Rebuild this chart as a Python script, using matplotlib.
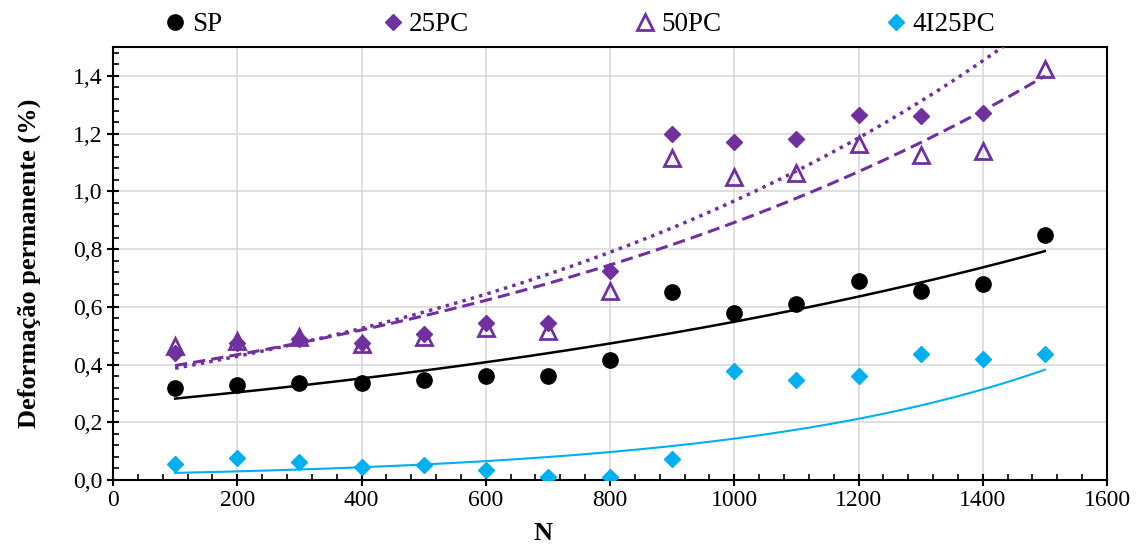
import numpy as np
import matplotlib
matplotlib.use("Agg")
import matplotlib.pyplot as plt
from matplotlib.lines import Line2D
from matplotlib.ticker import MultipleLocator, FuncFormatter

plt.rcParams['font.family'] = ['Liberation Serif', 'DejaVu Serif']

N = [100, 200, 300, 400, 500, 600, 700, 800, 900, 1000, 1100, 1200, 1300, 1400, 1500]
sp = [0.32, 0.33, 0.335, 0.335, 0.345, 0.36, 0.36, 0.415, 0.65, 0.58, 0.61, 0.69, 0.655, 0.68, 0.85]
pc25_N = [100, 200, 300, 400, 500, 600, 700, 800, 900, 1000, 1100, 1200, 1300, 1400]
pc25 = [0.44, 0.475, 0.49, 0.475, 0.505, 0.545, 0.545, 0.725, 1.2, 1.17, 1.18, 1.265, 1.26, 1.27]
pc50 = [0.465, 0.48, 0.495, 0.47, 0.495, 0.525, 0.515, 0.655, 1.115, 1.05, 1.065, 1.165, 1.125, 1.14, 1.425]
i4pc25 = [0.057, 0.077, 0.062, 0.045, 0.052, 0.035, 0.01, 0.01, 0.073, 0.378, 0.348, 0.36, 0.435, 0.42, 0.435]

PURPLE = '#7030A0'
CYAN = '#00B0F0'

def expfit(x, y):
    b, lna = np.polyfit(np.asarray(x, float), np.log(np.asarray(y, float)), 1)
    return lambda t: np.exp(lna) * np.exp(b * t)

fig = plt.figure(figsize=(11.37, 5.45), dpi=100)
ax = fig.add_axes([113 / 1137, 65 / 545, 994 / 1137, 433 / 545])

xs = np.linspace(100, 1500, 300)
ax.plot(xs, expfit(N, sp)(xs), color='black', lw=1.8, zorder=3)
ax.plot(xs, expfit(pc25_N, pc25)(xs), color=PURPLE, lw=2.5, ls=(0, (1, 1.5)), zorder=3)
ax.plot(xs, expfit(N, pc50)(xs), color=PURPLE, lw=2.2, ls=(0, (4, 2)), zorder=3)
ax.plot(xs, expfit(N, i4pc25)(xs), color=CYAN, lw=1.5, zorder=3)

ax.plot(N, sp, 'o', color='black', ms=11, ls='none', zorder=4)
ax.plot(pc25_N, pc25, 'D', color=PURPLE, ms=8.5, ls='none', zorder=4)
ax.plot(N, pc50, '^', mfc='none', mec=PURPLE, mew=2, ms=11, ls='none', zorder=5)
ax.plot(N, i4pc25, 'D', color=CYAN, ms=8.5, ls='none', zorder=4)

ax.set_xlim(0, 1600)
ax.set_ylim(0, 1.5)
ax.xaxis.set_major_locator(MultipleLocator(200))
ax.xaxis.set_minor_locator(MultipleLocator(40))
ax.set_yticks(np.arange(0, 1.41, 0.2))
ax.yaxis.set_minor_locator(MultipleLocator(0.04))
ax.yaxis.set_major_formatter(FuncFormatter(lambda v, p: f"{v:.1f}".replace('.', ',')))
ax.grid(True, which='major', color='#D9D9D9', lw=1.2, zorder=0)
ax.set_axisbelow(True)
ax.tick_params(which='major', direction='inout', length=8, width=1.5, labelsize=17)
ax.tick_params(which='minor', direction='in', length=4, width=1.2)
for s in ax.spines.values():
    s.set_linewidth(1.5)

ax.set_xlabel('N', fontsize=19, fontweight='bold')
ax.xaxis.set_label_coords((543 - 113) / 994, -0.098)
ax.set_ylabel('Deformação permanente (%)', fontsize=19, fontweight='bold')
ax.yaxis.set_label_coords(-0.072, 0.5)

entries = [
    (Line2D([], [], marker='o', color='black', ls='none', ms=11), 'SP', 0.140),
    (Line2D([], [], marker='D', color=PURPLE, ls='none', ms=8.5), '25PC', 0.331),
    (Line2D([], [], marker='^', mfc='white', mec=PURPLE, mew=2, ls='none', ms=11), '50PC', 0.553),
    (Line2D([], [], marker='D', color=CYAN, ls='none', ms=8.5), '4I25PC', 0.774),
]
for h, lab, xpos in entries:
    fig.legend([h], [lab], loc='center left', bbox_to_anchor=(xpos, 0.955), frameon=False,
               fontsize=19.5, handletextpad=0.0, handlelength=1.2, borderpad=0, borderaxespad=0)

fig.savefig('out.png', dpi=100)
